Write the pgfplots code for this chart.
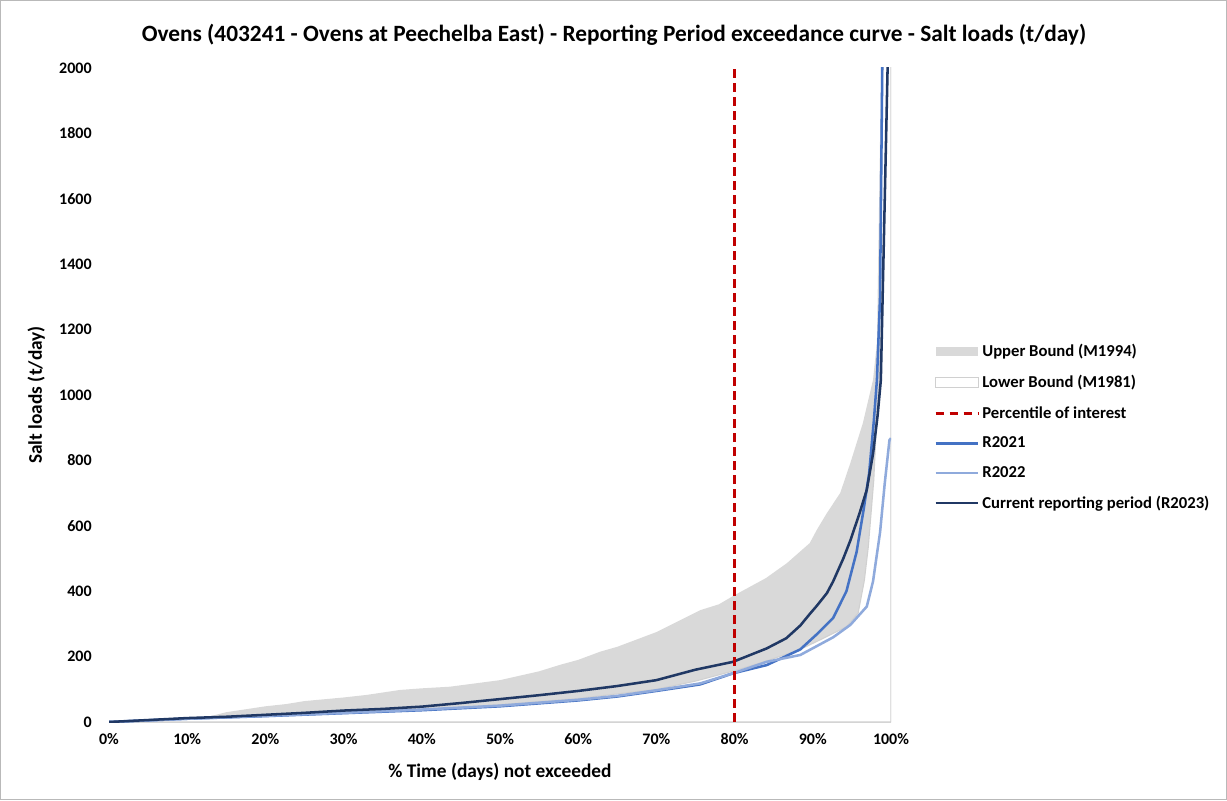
\documentclass[border=0pt]{standalone}
\usepackage{fontspec}
\setmainfont{Carlito}
\usepackage{pgfplots}
\pgfplotsset{compat=1.18}
\definecolor{upperc}{HTML}{D9D9D9}
\definecolor{lowerc}{HTML}{D0D0D0}
\definecolor{pctc}{HTML}{C00000}
\definecolor{r21}{HTML}{4472C4}
\definecolor{r22}{HTML}{8FAADC}
\definecolor{r23}{HTML}{203864}

\begin{document}
\begin{tikzpicture}
\useasboundingbox (0pt,0pt) rectangle (920.25pt,600pt);
\draw[gray!55, line width=0.75pt] (0.5pt,0.5pt) rectangle (919.75pt,599.5pt);
\node[font=\bfseries\fontsize{17.5}{20}\selectfont] at (460.5pt,573.75pt)
  {Ovens (403241 - Ovens at Peechelba East) - Reporting Period exceedance curve - Salt loads (t/day)};
\begin{axis}[
    at={(81.75pt,58.5pt)}, anchor=south west,
    scale only axis, width=586.5pt, height=490.5pt,
    xmin=0, xmax=100, ymin=0, ymax=2000,
    axis lines*=left,
    x axis line style={draw=upperc, line width=1pt},
    y axis line style={draw=none},
    tick style={draw=none},
    xtick={0,10,...,100},
    xticklabel={\pgfmathprintnumber{\tick}\%},
    ytick distance=200,
    /pgf/number format/assume math mode=true,
    /pgf/number format/1000 sep={},
    ticklabel style={font=\bfseries\fontsize{12}{14}\selectfont},
    xticklabel style={yshift=-5pt},
    yticklabel style={xshift=-9.5pt},
    xlabel={\% Time (days) not exceeded},
    ylabel={Salt loads (t/day)},
    label style={font=\bfseries\fontsize{14.5}{17}\selectfont},
    xlabel style={at={(axis description cs:0.5,-0.0765)}, anchor=center},
    ylabel style={at={(axis description cs:-0.093,0.5)}, anchor=center},
    legend cell align=left,
    legend style={at={(axis description cs:1.05,0.586)}, anchor=north west,
        draw=none, fill=none, font=\bfseries\fontsize{12.5}{15}\selectfont,
        row sep=8.5pt},
    legend image code/.code={\draw[#1] (0pt,0pt) -- (32pt,0pt);},
    area legend/.style={legend image code/.code={\path[##1] (0pt,-3.5pt) rectangle (32pt,3.5pt);}},
]
% Upper bound (M1994)
\addplot[fill=upperc, draw=none, area legend] coordinates {
(0,0) (5,3) (10,10) (13,18) (15,30) (20,48) (22.7,55) (25,64) (30,75) (33,83)
(37.2,98) (40,103) (43.6,108) (50,128) (55,155) (57.7,175) (60,190) (62.8,215)
(65,230) (70,275) (75.6,342) (78,360) (80,388) (84,440) (86.7,486) (89.6,547)
(90.5,587) (91.8,639) (93.5,700) (94.8,792) (96.4,914) (97.7,1046) (98.2,1160)
(98.8,2100) (100,5000)} \closedcycle;
\addlegendentry{Upper Bound (M1994)}
% Lower bound (M1981)
\addplot[fill=white, draw=lowerc, line width=0.8pt, area legend] coordinates {
(0,0) (10,9) (20,17) (30,27) (40,38) (50,53) (60,72) (70,100) (75,125)
(80,157) (84,186) (88.4,222) (91,252) (94.3,291) (95.8,333) (96.6,434)
(97.1,536) (97.8,740) (98.2,945) (98.5,1046) (99,2100) (100,5000)} \closedcycle;
\addlegendentry{Lower Bound (M1981)}
\addlegendimage{pctc, line width=2pt, dash pattern=on 6.5pt off 4pt}
\addlegendentry{Percentile of interest}
% R2021
\addplot[r21, line width=1.9pt] coordinates {
(0,0) (10,10) (20,18) (30,27) (40,36) (50,48) (60,66) (65,78) (70,95) (75.6,115)
(79.8,149) (84.1,174) (88.4,222) (90.5,268) (92.6,318) (94.3,400) (95.6,520)
(96.5,650) (97.2,760) (97.8,920) (98.2,1046) (98.6,1300) (99,2300) (100,5000)};
\addlegendentry{R2021}
% R2022
\addplot[r22, line width=1.9pt] coordinates {
(0,0) (10,10) (20,19) (30,28) (40,38) (50,50) (60,68) (65,80) (70,97) (75.6,118)
(79.8,149) (84.1,184) (88.4,205) (92.6,259) (94.8,297) (96.9,353) (97.7,430)
(98.6,580) (99.2,730) (99.8,862) (100,868)};
\addlegendentry{R2022}
% Current reporting period (R2023)
\addplot[r23, line width=1.9pt] coordinates {
(0,0) (5,6) (10,12) (15,16) (20,22) (25,28) (30,35) (35,40) (40,47) (45,58)
(50,70) (55,82) (60,95) (65,110) (70,128) (75,160) (79.8,184) (84.1,225)
(86.6,256) (88.4,295) (89.6,330) (90.5,355) (91.8,394) (92.6,430) (93.9,500)
(94.8,555) (96,640) (96.9,710) (97.7,820) (98.3,940) (98.7,1046) (100,2480)};
\addlegendentry{Current reporting period (R2023)}
% percentile of interest
\addplot[pctc, line width=2pt, dash pattern=on 6.5pt off 4pt, forget plot]
  coordinates {(80,0) (80,2000)};
\end{axis}
\end{tikzpicture}
\end{document}
